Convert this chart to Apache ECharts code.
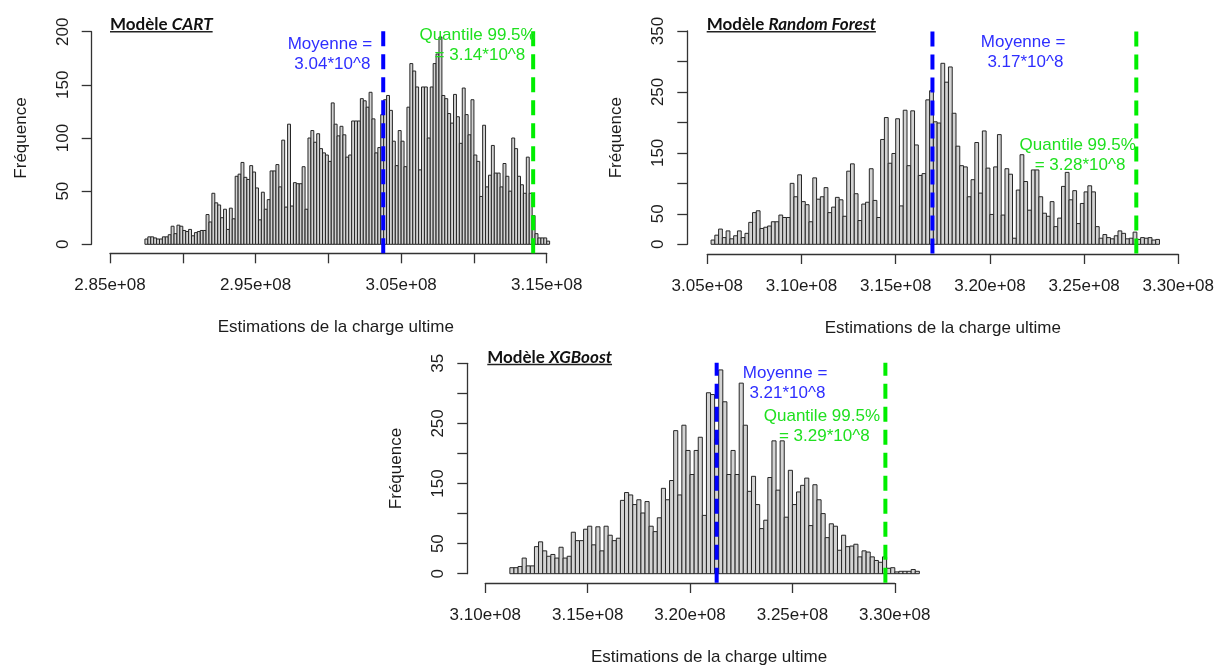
<!DOCTYPE html>
<html><head><meta charset="utf-8">
<script src="https://cdn.jsdelivr.net/npm/echarts@6/dist/echarts.min.js"></script>
<style>html,body{margin:0;padding:0;background:#fff;}#c{width:1217px;height:667px;}</style>
</head><body><div id="c"></div>
<script>
// ---------- DATA ----------
const binWidth = 200000;

const cartStart = 287400000;
const cartCounts = [5,7,7,6,5,5,7,7,9,17,10,18,17,13,12,14,8,11,12,13,13,28,21,48,39,37,25,33,14,34,24,64,66,77,63,61,74,68,53,23,49,33,42,69,69,75,54,98,35,113,36,58,
  57,57,73,33,100,107,96,104,90,86,84,78,133,113,102,111,103,82,84,116,116,116,137,135,129,143,118,86,91,122,
  136,140,126,97,74,107,97,73,129,170,163,148,70,148,148,100,148,170,179,195,140,137,123,114,141,120,95,147,122,103,136,84,78,45,112,54,65,93,67,67,54,76,64,50,100,90,64,56,48,82,48,27,10,6,6,6,3];
const cartMean = 303770000, cartQuantile = 314070000;

const rfStart = 305200000;
const rfCounts = [7,15,25,11,22,9,14,22,11,18, 36,52,55,26,28,30,37,37,48,44, 44,100,78,114,70,65,37,109,74,78,
  93,52,61,77,73,46,120,132,83,39, 66,69,124,72,44,172,208,133,149,206, 63,220,129,219,163,113,116,237,252,201,
  199,297,266,291,215,161,129,127,78,106, 167,84,186,125,49,127,180,48,124,115, 10,89,147,103,56,122,122,78,51,46,
  70,29,43,95,118,73,88,34,67,86, 96,86,29,10,16,11,9,14,22,18, 9,10,20,8,11,10,11,7,8];
const rfMean = 316950000, rfQuantile = 327770000;

const xgbStart = 311200000;
const xgbCounts = [10,10,12,26,13,13,45,53,38,29, 32,26,44,26,29,69,55,55,74,79, 48,78,38,79,64,55,59,122,135,131,
  115,123,101,120,79,70,93,142,123,155, 238,131,247,205,165,205,227,97,301,298, 224,
  339,286,165,205,165,317,247,137,162,115, 75,89,160,221,139,221,94,172,115,136, 147,159,80,148,123,100,60,83,79,39,
  64,45,46,49,28,38,36,28,22,19, 28,9,10,3,4,4,4,7,4];
const xgbMean = 321300000, xgbQuantile = 329540000;

const modelNames = ['CART', 'Random Forest', 'XGBoost'];
const meanLabels = ['3.04*10^8', '3.17*10^8', '3.21*10^8'];
const quantileLabels = ['3.14*10^8', '3.28*10^8', '3.29*10^8'];
const xLimits = [[285000000, 315000000], [305000000, 330000000], [310000000, 330000000]];
const xTickStep = 5000000;
const yMaxTicks = [200, 350, 350];
const yTickStep = 50;
const yLabelTexts = [
  {0:'0',50:'50',100:'100',150:'150',200:'200'},
  {0:'0',50:'50',150:'150',250:'250',350:'350'},
  {0:'0',50:'50',150:'150',250:'250',350:'35'}
];
const xLabelSkipOdd = [true, false, false];
const xName = 'Estimations de la charge ultime';
const yName = 'Fréquence';

// ---------- LAYOUT ----------
const FONT = "'Liberation Sans', Arial, sans-serif";
const TXT = '#1c1c1c';
const layout = [
  {grid:{left:110, top:31.7, width:436.7, height:212.6}, xOff:9, yOff:18.3, yLo:-8.5, yHi:202,
   meanAt:[300110000,179], qAt:[310250000,187.5], namePad:[0,0,0,15], title:[110,24.5,31.7]},
  {grid:{left:707.3, top:31, width:477.7, height:213.3}, xOff:9.7, yOff:20, yLo:-15, yHi:351,
   meanAt:[321760000,315.5], qAt:[324660000,146.5], namePad:[0,0,0,0], title:[706.7,24.5,31.7]},
  {grid:{left:485.3, top:363.3, width:409.5, height:213.4}, xOff:9.3, yOff:18, yLo:-15, yHi:351,
   meanAt:[324640000,316.2], qAt:[326440000,245.6], namePad:[0,0,0,38], title:[487.3,357.8,364.5]}
];

const binsData = [[cartStart, cartCounts], [rfStart, rfCounts], [xgbStart, xgbCounts]].map(([s, c]) =>
  c.map((v, i) => [s + i * binWidth, s + (i + 1) * binWidth, v]));
const refData = [[cartMean, cartQuantile], [rfMean, rfQuantile], [xgbMean, xgbQuantile]];

const fmtX = v => (v / 1e8).toFixed(2) + 'e+08';

const grids = [], xAxes = [], yAxes = [], series = [];
layout.forEach((L, k) => {
  grids.push(Object.assign({containLabel:false}, L.grid));
  xAxes.push({
    type:'value', gridIndex:k, min:xLimits[k][0], max:xLimits[k][1], interval:xTickStep,
    offset:L.xOff, splitLine:{show:false},
    axisLine:{show:true, onZero:false, lineStyle:{color:'#333', width:1.3}},
    axisTick:{show:true, length:10, lineStyle:{color:'#333', width:1.3}},
    axisLabel:{margin:24, color:TXT, fontSize:17, fontFamily:FONT,
      formatter:(v, i) => (xLabelSkipOdd[k] && i % 2 === 1) ? '' : fmtX(v)},
    name:xName, nameLocation:'middle', nameGap:66,
    nameTextStyle:{color:TXT, fontSize:17, fontFamily:FONT, padding:L.namePad}
  });
  yAxes.push({
    type:'value', gridIndex:k, min:0, max:yMaxTicks[k], interval:yTickStep,
    offset:L.yOff, splitLine:{show:false},
    axisLine:{show:true, onZero:false, lineStyle:{color:'#333', width:1.3}},
    axisTick:{show:true, length:10, lineStyle:{color:'#333', width:1.3}},
    axisLabel:{rotate:90, margin:20, color:TXT, fontSize:17, fontFamily:FONT,
      formatter:v => (yLabelTexts[k][v] !== undefined ? yLabelTexts[k][v] : '')},
    name:yName, nameLocation:'middle', nameGap:62, nameRotate:90,
    nameTextStyle:{color:TXT, fontSize:17, fontFamily:FONT}
  });
  series.push({
    type:'custom', xAxisIndex:k, yAxisIndex:k, clip:false, silent:true, animation:false,
    encode:{x:[0,1], y:2}, data:binsData[k],
    renderItem:(params, api) => {
      const p0 = api.coord([api.value(0), 0]);
      const p1 = api.coord([api.value(1), api.value(2)]);
      return {type:'rect', shape:{x:p0[0], y:p1[1], width:p1[0]-p0[0], height:p0[1]-p1[1]},
        style:{fill:'#d3d3d3', stroke:'#262626', lineWidth:1}};
    }
  });
  series.push({
    type:'custom', xAxisIndex:k, yAxisIndex:k, clip:false, silent:true, animation:false, z:5,
    encode:{x:[0,1], y:2}, data:[[refData[k][0], refData[k][1], 0]],
    renderItem:(params, api) => {
      const m = api.value(0), q = api.value(1);
      const a0 = api.coord([m, L.yLo]), a1 = api.coord([m, L.yHi]);
      const b0 = api.coord([q, L.yLo]), b1 = api.coord([q, L.yHi]);
      const tm = api.coord(L.meanAt), tq = api.coord(L.qAt);
      return {type:'group', children:[
        {type:'line', shape:{x1:a0[0], y1:a0[1], x2:a1[0], y2:a1[1]},
          style:{stroke:'#0000ff', lineWidth:4, lineDash:[15,8]}},
        {type:'line', shape:{x1:b0[0], y1:b0[1], x2:b1[0], y2:b1[1]},
          style:{stroke:'#00ee00', lineWidth:4, lineDash:[15,8]}},
        {type:'text', x:tm[0], y:tm[1], style:{text:'Moyenne =\n ' + meanLabels[k], fill:'#2e2eff',
          fontSize:17, fontFamily:FONT, align:'center', verticalAlign:'middle', lineHeight:20}},
        {type:'text', x:tq[0], y:tq[1], style:{text:'Quantile 99.5%\n = ' + quantileLabels[k], fill:'#1fe01f',
          fontSize:17, fontFamily:FONT, align:'center', verticalAlign:'middle', lineHeight:20}}
      ]};
    }
  });
});

// titles (bold, underlined)
const ctx = document.createElement('canvas').getContext('2d');
const TF = "Lato, 'Open Sans', sans-serif";
const tSize = 17;
const graphics = [];
layout.forEach((L, k) => {
  ctx.font = `bold ${tSize}px ${TF}`;
  const w1 = ctx.measureText('Modèle ').width;
  ctx.font = `italic bold ${tSize}px ${TF}`;
  const w2 = ctx.measureText(modelNames[k]).width;
  const [tx, ty, uy] = L.title;
  graphics.push({type:'text', x:tx, y:ty, silent:true, style:{
    text:'{a|Modèle }{b|' + modelNames[k] + '}', verticalAlign:'middle', align:'left',
    rich:{a:{fontFamily:TF, fontWeight:'bold', fontSize:tSize, fill:'#111'},
          b:{fontFamily:TF, fontWeight:'bold', fontStyle:'italic', fontSize:tSize, fill:'#111'}}}});
  graphics.push({type:'line', silent:true, shape:{x1:tx, y1:uy, x2:tx + w1 + w2, y2:uy},
    style:{stroke:'#222', lineWidth:1.5}});
});

const chart = echarts.init(document.getElementById('c'), null, {renderer:'canvas'});
chart.setOption({backgroundColor:'#fff', animation:false, grid:grids, xAxis:xAxes, yAxis:yAxes,
  series:series, graphic:graphics});
</script></body></html>
